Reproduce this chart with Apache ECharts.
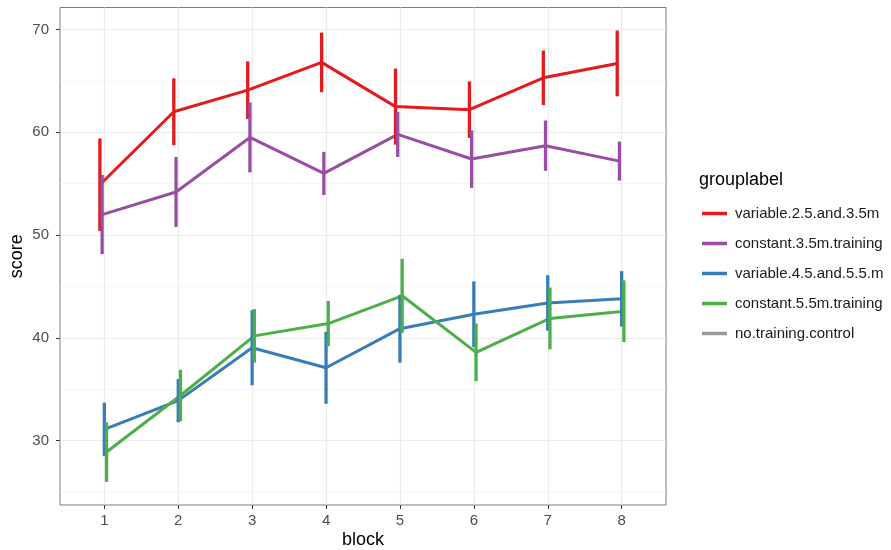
<!DOCTYPE html>
<html>
<head>
<meta charset="utf-8">
<script src="https://cdn.jsdelivr.net/npm/echarts@6/dist/echarts.min.js"></script>
<style>html,body{margin:0;padding:0;background:#fff}#c{width:891px;height:550px}</style>
</head>
<body>
<div id="c"></div>
<script>
const blocks = [1, 2, 3, 4, 5, 6, 7, 8];
const groupNames = ['variable.2.5.and.3.5m', 'constant.3.5m.training', 'variable.4.5.and.5.5.m', 'constant.5.5m.training', 'no.training.control'];
const groupColors = ['#E41A1C', '#984EA3', '#377EB8', '#4DAF4A', '#999999'];
const redMean = [54.9, 62.0, 64.1, 66.8, 62.5, 62.2, 65.3, 66.7];
const redErr = [4.5, 3.25, 2.8, 2.9, 3.7, 2.75, 2.65, 3.2];
const purpleMean = [52.0, 54.2, 59.5, 56.0, 59.8, 57.4, 58.7, 57.2];
const purpleErr = [3.85, 3.4, 3.4, 2.1, 2.2, 2.8, 2.45, 1.9];
const blueMean = [31.1, 33.9, 39.05, 37.1, 40.9, 42.3, 43.4, 43.8];
const blueErr = [2.6, 2.1, 3.65, 3.5, 3.3, 3.2, 2.7, 2.7];
const greenMean = [28.9, 34.4, 40.2, 41.4, 44.1, 38.6, 41.9, 42.6];
const greenErr = [2.9, 2.5, 2.6, 2.2, 3.6, 2.8, 3.0, 3.0];
const controlMean = [];
const controlErr = [];
const yTicks = [30, 40, 50, 60, 70];
const yMinorGrid = [25, 35, 45, 55, 65];

const means = [redMean, purpleMean, blueMean, greenMean, controlMean];
const errs = [redErr, purpleErr, blueErr, greenErr, controlErr];
const dodge = [-0.06, -0.03, 0, 0.03, 0.06];

const FONT = '"Liberation Sans", Arial, sans-serif';
const series = [];

// gridlines helper
series.push({
  type: 'line', data: [], silent: true, z: 0,
  markLine: {
    silent: true, symbol: 'none', z: 0, animation: false,
    label: { show: false },
    data: [
      ...yTicks.map(v => ({ yAxis: v, lineStyle: { color: '#EBEBEB', width: 1.2, type: 'solid' } })),
      ...yMinorGrid.map(v => ({ yAxis: v, lineStyle: { color: '#F2F2F2', width: 0.8, type: 'solid' } })),
      ...blocks.map(v => ({ xAxis: v, lineStyle: { color: '#EBEBEB', width: 1.2, type: 'solid' } }))
    ]
  }
});

groupNames.forEach((name, g) => {
  const pts = means[g].map((m, i) => [blocks[i] + dodge[g], m, errs[g][i]]);
  series.push({
    name: name, type: 'line', z: 2 + g * 0.01,
    data: pts.map(p => [p[0], p[1]]),
    showSymbol: false, symbol: 'none',
    color: groupColors[g],
    itemStyle: { color: groupColors[g] },
    lineStyle: { color: groupColors[g], width: 3 },
    animation: false
  });
});
groupNames.forEach((name, g) => {
  const pts = means[g].map((m, i) => [blocks[i] + dodge[g], m, errs[g][i]]);
  series.push({
    name: name, type: 'custom', z: 3 + g * 0.01,
    data: pts,
    color: groupColors[g],
    itemStyle: { color: groupColors[g] },
    renderItem: function (params, api) {
      const x = api.value(0), y = api.value(1), e = api.value(2);
      const a = api.coord([x, y + e]);
      const b = api.coord([x, y - e]);
      return {
        type: 'line',
        shape: { x1: a[0], y1: a[1], x2: b[0], y2: b[1] },
        style: { stroke: groupColors[g], lineWidth: 3.3 }
      };
    },
    animation: false
  });
});

const chart = echarts.init(document.getElementById('c'));
chart.setOption({
  backgroundColor: '#fff',
  animation: false,
  title: {
    text: 'grouplabel', left: 694, top: 166,
    textStyle: { fontFamily: FONT, fontSize: 18, fontWeight: 'normal', color: '#000' }
  },
  legend: {
    orient: 'vertical', left: 697, top: 201,
    data: groupNames, icon: 'rect', itemWidth: 25, itemHeight: 3.5, itemGap: 15,
    selectedMode: false,
    textStyle: { fontFamily: FONT, fontSize: 15, color: '#1a1a1a', padding: [0, 0, 0, 3] }
  },
  grid: {
    left: 60, right: 225, top: 7.5, bottom: 45,
    containLabel: false, outerBoundsMode: 'none',
    show: true, borderColor: '#7a7a7a', borderWidth: 1, backgroundColor: '#fff'
  },
  xAxis: {
    type: 'value', min: 0.4, max: 8.6,
    name: 'block', nameLocation: 'middle', nameGap: 26, nameMoveOverlap: false,
    nameTextStyle: { fontFamily: FONT, fontSize: 18, color: '#000' },
    axisLine: { show: false },
    axisTick: { show: true, customValues: blocks, length: 4, lineStyle: { color: '#333', width: 1 } },
    axisLabel: { customValues: blocks, fontFamily: FONT, fontSize: 15, color: '#4D4D4D', margin: 8 },
    splitLine: { show: false }
  },
  yAxis: {
    type: 'value', min: 23.75, max: 72.14,
    name: 'score', nameLocation: 'middle', nameGap: 34, nameMoveOverlap: false,
    nameTextStyle: { fontFamily: FONT, fontSize: 18, color: '#000' },
    axisLine: { show: false },
    axisTick: { show: true, customValues: yTicks, length: 4, lineStyle: { color: '#333', width: 1 } },
    axisLabel: { customValues: yTicks, fontFamily: FONT, fontSize: 15, color: '#4D4D4D', margin: 11 },
    splitLine: { show: false }
  },
  series: series
});
</script>
</body>
</html>
